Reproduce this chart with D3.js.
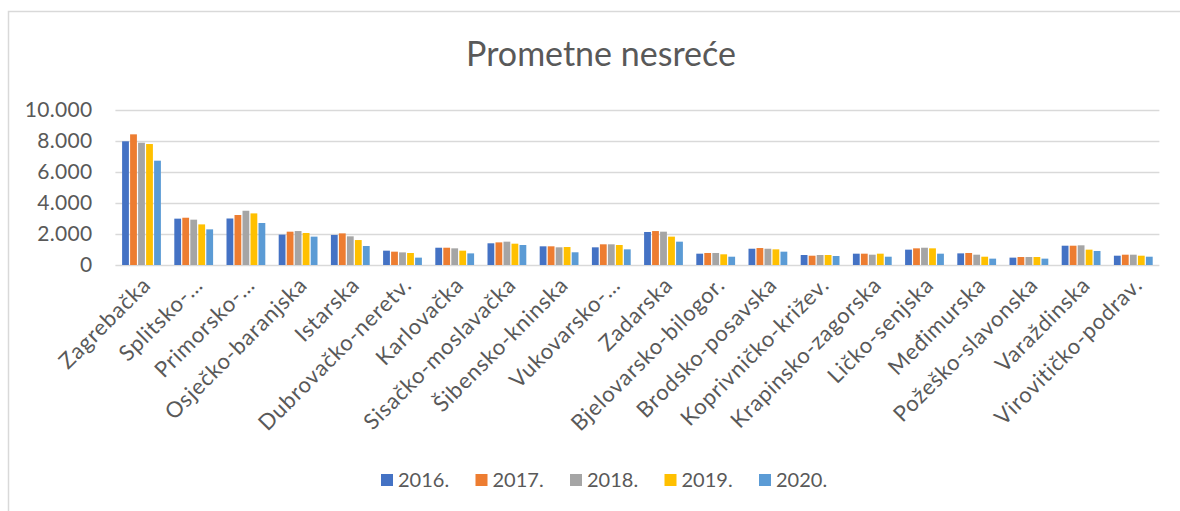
<!DOCTYPE html>
<html>
<head>
<meta charset="utf-8">
<script src="https://cdn.jsdelivr.net/npm/d3@7"></script>
<style>
  body { margin: 0; background: #fff; }
  svg { display: block; font-family: Lato, "Open Sans", sans-serif; }
</style>
</head>
<body>
<div id="chart"></div>
<script>
/* Prometne nesreće - grouped bars per county */

const counties = ["Zagrebačka", "Splitsko-…", "Primorsko-…", "Osječko-baranjska", "Istarska",
    "Dubrovačko-neretv.", "Karlovačka", "Sisačko-moslavačka", "Šibensko-kninska", "Vukovarsko-…",
    "Zadarska", "Bjelovarsko-bilogor.", "Brodsko-posavska", "Koprivničko-križev.", "Krapinsko-zagorska",
    "Ličko-senjska", "Međimurska", "Požeško-slavonska", "Varaždinska", "Virovitičko-podrav."];

const years = ["2016.", "2017.", "2018.", "2019.", "2020."];

const v2016 = [7980, 2990, 3000, 1960, 1940, 925, 1115, 1400, 1205, 1140, 2130, 730, 1050, 645, 730, 990, 750, 475, 1245, 600];
const v2017 = [8430, 3050, 3225, 2150, 2040, 860, 1115, 1460, 1205, 1335, 2190, 775, 1095, 600, 730, 1075, 775, 515, 1245, 665];
const v2018 = [7890, 2925, 3500, 2190, 1850, 815, 1075, 1505, 1140, 1335, 2150, 775, 1050, 645, 665, 1115, 665, 515, 1270, 665];
const v2019 = [7805, 2620, 3330, 2065, 1610, 775, 925, 1375, 1160, 1290, 1830, 690, 1010, 645, 730, 1075, 535, 515, 990, 600];
const v2020 = [6730, 2300, 2710, 1830, 1225, 475, 750, 1290, 820, 1010, 1505, 535, 860, 580, 535, 730, 410, 410, 905, 535];

const yTicks = [0, 2000, 4000, 6000, 8000, 10000];
const colors = ["#4472C4", "#ED7D31", "#A5A5A5", "#FFC000", "#5B9BD5"];

const series = [v2016, v2017, v2018, v2019, v2020];
const data = counties.map((c, i) => ({ county: c, values: years.map((y, j) => ({ year: y, value: series[j][i] })) }));

const width = 1180, height = 511,
    margin = ({ top: 110, right: 20.6, bottom: 246, left: 115.4 });

const svg = d3.select("#chart")
    .append("svg")
    .attr("width", width)
    .attr("height", height);

// outer frame of the chart object
svg.append("rect")
    .attr("x", 8.5).attr("y", 11.5)
    .attr("width", width + 10).attr("height", height + 10)
    .attr("fill", "none")
    .attr("stroke", "#D9D9D9")
    .attr("stroke-width", 1.5);

svg.append("text")
    .attr("x", 601).attr("y", 66)
    .attr("text-anchor", "middle")
    .attr("fill", "#595959")
    .style("font-size", "34px")
    .text("Prometne nesreće");

const x0 = d3.scaleBand()
    .domain(counties)
    .range([margin.left, width - margin.right])
    .paddingInner(0.2337)
    .paddingOuter(0.2337 / 2);

const x1 = d3.scaleBand()
    .domain(years)
    .range([0, x0.bandwidth()]);

const y = d3.scaleLinear()
    .domain([0, 10000])
    .range([height - margin.bottom, margin.top]);

const fmt = d => d3.format(",")(d).replace(/,/g, ".");

// gridlines + y labels
const yAxis = g => g
    .attr("transform", `translate(${margin.left},0)`)
    .call(d3.axisLeft(y).tickValues(yTicks).tickFormat(fmt)
        .tickSize(-(width - margin.right - margin.left)).tickPadding(23))
    .call(g => g.select(".domain").remove())
    .call(g => g.selectAll("line").attr("stroke", "#D9D9D9").attr("stroke-width", 1.3))
    .call(g => g.selectAll("text").attr("fill", "#595959").style("font-size", "21px")
        .style("letter-spacing", "0.3px")
        .style("font-family", "Lato, 'Open Sans', sans-serif"));

svg.append("g").call(yAxis);

let group = svg.selectAll(".grp")
    .data(data)
    .join("g")
    .attr("class", "grp")
    .attr("transform", d => `translate(${x0(d.county)},0)`);

group.selectAll("rect")
    .data(d => d.values)
    .join("rect")
    .attr("x", d => x1(d.year) + 0.6)
    .attr("width", x1.bandwidth() - 1.2)
    .attr("y", d => y(d.value))
    .attr("height", d => y(0) - y(d.value))
    .attr("fill", (d, i) => colors[i]);

// rotated category labels
svg.append("g")
    .selectAll("text")
    .data(counties)
    .join("text")
    .attr("transform", d => `translate(${x0(d) + x0.bandwidth() / 2 + 5},${y(0) + 16}) rotate(-45)`)
    .attr("text-anchor", "end")
    .attr("dy", "0.35em")
    .attr("fill", "#595959")
    .style("font-size", "22px")
    .style("letter-spacing", "0.8px")
    .text(d => d);

// legend
const legend = svg.append("g")
    .selectAll("g")
    .data(years)
    .join("g")
    .attr("transform", (d, i) => `translate(${381 + i * 94.5},474)`);

legend.append("rect")
    .attr("width", 12).attr("height", 12)
    .attr("fill", (d, i) => colors[i]);

legend.append("text")
    .attr("x", 17).attr("y", 12.5)
    .attr("fill", "#595959")
    .style("font-size", "20px")
    .text(d => d);
</script>
</body>
</html>
